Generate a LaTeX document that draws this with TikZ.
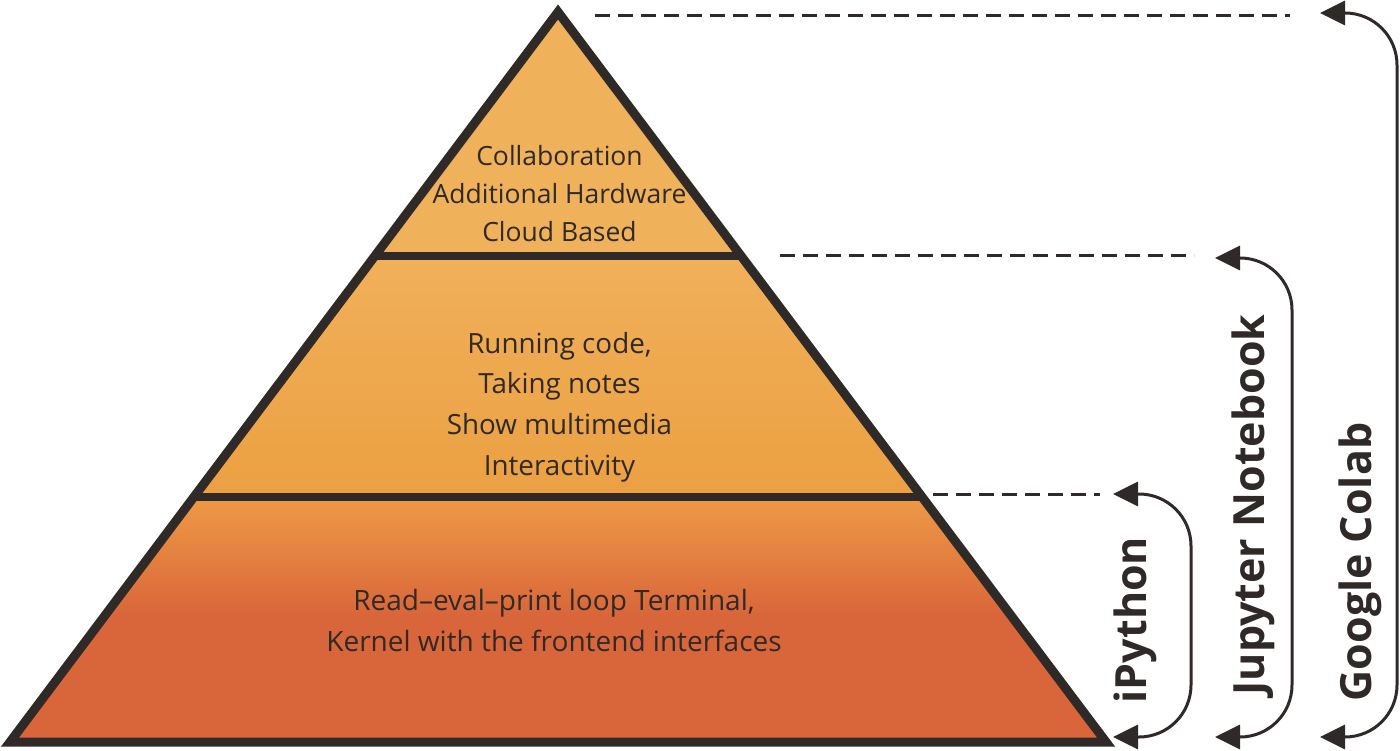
\documentclass[tikz,border=0pt]{standalone}
\usepackage{fontspec}
\setmainfont{Open Sans}
\usetikzlibrary{arrows.meta}
\definecolor{ink}{HTML}{2F2A28}
\definecolor{topc}{HTML}{F0B15B}
\definecolor{midtop}{HTML}{F1B05A}
\definecolor{midbot}{HTML}{EBA042}
\definecolor{bottop}{HTML}{EE9A46}
\definecolor{botc}{HTML}{D9663A}
\tikzset{
  outline/.style={draw=ink, line width=9pt, line join=miter},
  sep/.style={draw=ink, line width=8.5pt},
  guide/.style={draw=ink, line width=3pt, dash pattern=on 15pt off 8pt},
  bracket/.style={draw=ink, line width=3pt, rounded corners=52pt,
    {Triangle[length=25pt,width=24pt]}-{Triangle[length=25pt,width=24pt]}},
  body/.style={text=ink, font=\fontsize{26.5}{30}\selectfont, inner sep=0pt, anchor=base},
  bodym/.style={body, font=\fontsize{27.8}{32}\selectfont},
  bodyb/.style={body, font=\fontsize{28}{32}\selectfont},
  lab/.style={text=ink, font=\bfseries\fontsize{43}{50}\selectfont, inner sep=0pt, rotate=90}
}
\begin{document}
\begin{tikzpicture}[x=1pt,y=-1pt]
\useasboundingbox (0,0) rectangle (1400,751);
% pyramid corners
\coordinate (A) at (558,12);
\coordinate (L) at (10,742);
\coordinate (R) at (1106,742);
\begin{scope}
  \clip (A) -- (L) -- (R) -- cycle;
  \fill[topc] (0,0) rectangle (1400,256);
  \shade[top color=midtop, bottom color=midbot] (0,256) rectangle (1400,497);
  \fill[botc] (0,497) rectangle (1400,751);
  \shade[top color=bottop, bottom color=botc] (0,497) rectangle (1400,615);
  \draw[sep] (0,256) -- (1400,256);
  \draw[sep] (0,497) -- (1400,497);
\end{scope}
\draw[outline] (A) -- (L) -- (R) -- cycle;

% texts
\node[body] (t1) at (559.5,166) {Collaboration};
\node[body] (t2) at (559.5,204) {Additional Hardware};
\node[body] (t3) at (559.5,242) {Cloud Based};
\node[bodym] (m1) at (559.5,353) {Running code,};
\node[bodym] (m2) at (559.5,393) {Taking notes};
\node[bodym] (m3) at (559.5,434) {Show multimedia};
\node[bodym] (m4) at (559.5,475) {Interactivity};
\node[bodyb] (b1) at (554,610) {Read–eval–print loop Terminal,};
\node[bodyb] (b2) at (554,651) {Kernel with the frontend interfaces};

% guide lines
\coordinate (g1a) at (595,15.5);  \coordinate (g1b) at (1290,15.5);
\coordinate (g2a) at (780,255.5); \coordinate (g2b) at (1194,255.5);
\coordinate (g3a) at (933,494);   \coordinate (g3b) at (1100,494);
\draw[guide] (g1a) -- (g1b);
\draw[guide] (g2a) -- (g2b);
\draw[guide] (g3a) -- (g3b);

% brackets
\coordinate (iT) at (1113,494); \coordinate (iV) at (1191,615); \coordinate (iB) at (1113,737);
\coordinate (jT) at (1215,258); \coordinate (jV) at (1292,500); \coordinate (jB) at (1215,737);
\coordinate (gT) at (1320,13);  \coordinate (gV) at (1397,400); \coordinate (gB) at (1320,737);
\draw[bracket] (iT) -| (iV) |- (iB);
\draw[bracket] (jT) -| (jV) |- (jB);
\draw[bracket] (gT) -| (gV) |- (gB);

% labels
\node[lab] (ipy) at (1135,620) {iPython};
\node[lab] (jup) at (1253,505) {Jupyter Notebook};
\node[lab] (gcl) at (1360,562) {Google Colab};
\end{tikzpicture}
\end{document}
